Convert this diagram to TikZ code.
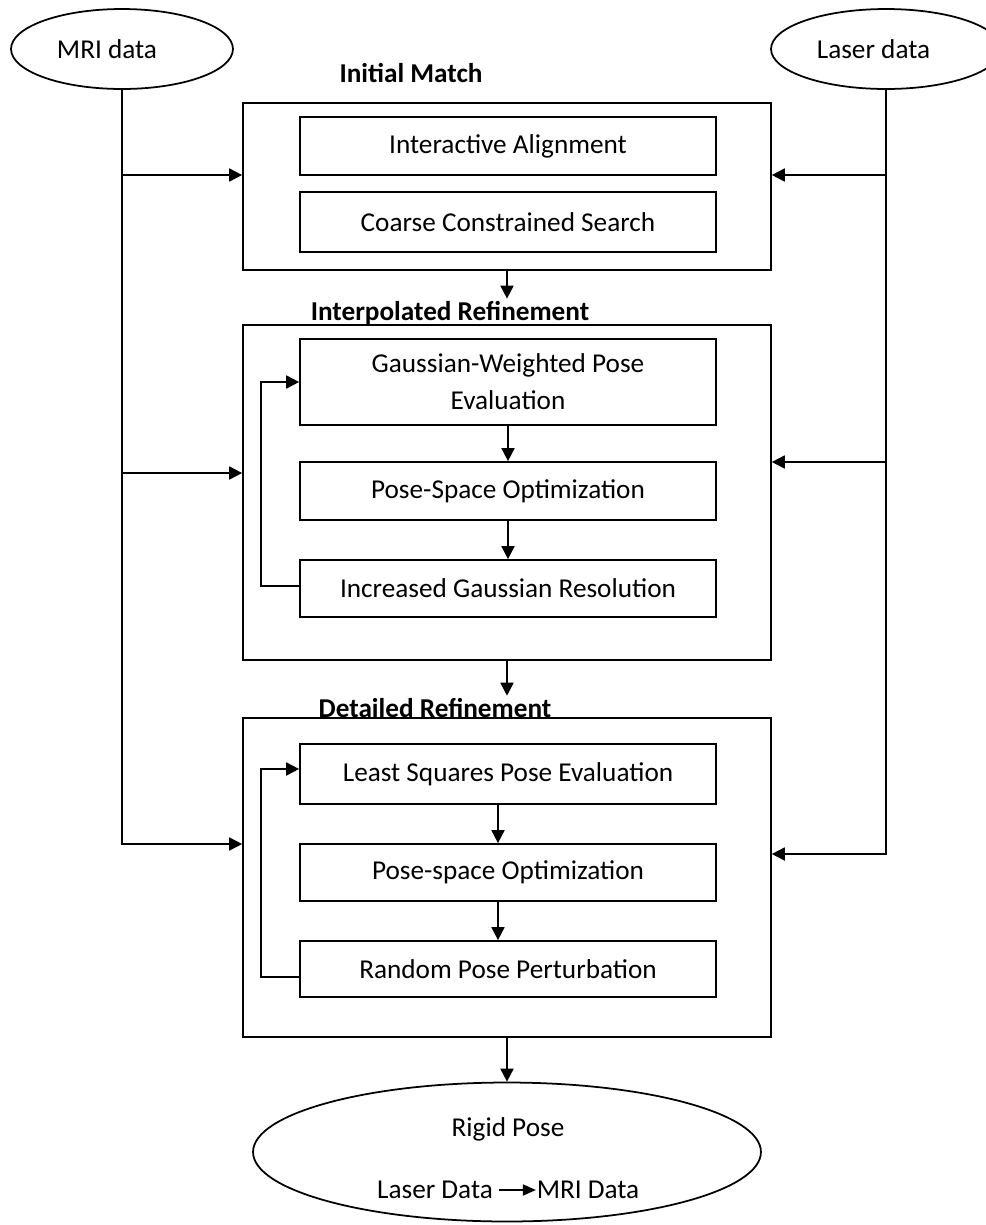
\documentclass[tikz,border=0pt]{standalone}
\usepackage{fontspec}
\setmainfont{Carlito}
\usetikzlibrary{shapes.geometric,arrows.meta}

\begin{document}
\begin{tikzpicture}[x=0.02cm, y=-0.02cm, line width=1pt,
		every node/.style={font=\fontsize{15.5}{21}\selectfont},
		source/.style={draw, ellipse, minimum width=4.44cm, minimum height=1.6cm, inner sep=0pt},
		stage/.style={draw, rectangle, minimum width=10.56cm},
		task/.style={draw, rectangle, minimum width=8.32cm, align=center},
		stagetitle/.style={font=\fontsize{15.5}{21}\selectfont\bfseries, inner sep=1pt},
		>={Triangle[length=0.26cm, width=0.26cm]}]
		\useasboundingbox (0,0) rectangle (985,1225);

		\node[source] (mri) at (122,49) {MRI data\kern0.6cm};
		\node[source, minimum width=4.6cm] (laser) at (886,49) {Laser data\kern0.5cm};

		% initial match
		\node[stagetitle] (titleInit) at (411,73) {Initial Match};
		\node[stage, minimum height=3.34cm] (stageInit) at (507,186.5) {};
		\node[task, minimum height=1.16cm] (align) at (508,146) {Interactive Alignment};
		\node[task, minimum height=1.2cm] (coarse) at (508,222) {Coarse Constrained Search};

		% interpolated refinement
		\node[stagetitle] (titleInterp) at (450,313) {Interpolated Refinement};
		\node[stage, minimum height=6.7cm] (stageInterp) at (507,492.5) {};
		\node[task, minimum height=1.72cm] (gaussEval) at (508,382) {Gaussian-Weighted Pose\\Evaluation};
		\node[task, minimum height=1.16cm] (optInterp) at (508,491) {Pose-Space Optimization};
		\node[task, minimum height=1.14cm] (gaussRes) at (508,588.5) {Increased Gaussian Resolution};

		% detailed refinement
		\node[stagetitle] (titleDetail) at (435,708) {Detailed Refinement};
		\node[stage, minimum height=6.38cm] (stageDetail) at (507,877.5) {};
		\node[task, minimum height=1.2cm] (lsqEval) at (508,774) {Least Squares Pose Evaluation};
		\node[task, minimum height=1.14cm] (optDetail) at (508,872.5) {Pose-space Optimization};
		\node[task, minimum height=1.12cm] (perturb) at (508,969) {Random Pose Perturbation};

		% result
		\node[draw, ellipse, minimum width=10.16cm, minimum height=2.78cm] (rigid) at (507,1152) {};
		\node (rigidText) at (508,1129) {Rigid Pose};
		\node[inner sep=0pt] (laserData) at (435,1190) {Laser Data};
		\node[inner sep=0pt] (mriData) at (588,1190) {MRI Data};

		\coordinate (mriA) at (121,175);
		\coordinate (mriB) at (121,473);
		\coordinate (mriC) at (121,844);
		\coordinate (laserA) at (887,175);
		\coordinate (laserB) at (887,462);
		\coordinate (laserC) at (887,854);
		\coordinate (loopInterp) at (261,586);
		\coordinate (loopDetail) at (261,977);

		\draw[->] (mri.south) |- (mriC -| stageDetail.west);
		\draw[->] (mriA) -- (mriA -| stageInit.west);
		\draw[->] (mriB) -- (mriB -| stageInterp.west);

		\draw[->] (laser.south) |- (laserC -| stageDetail.east);
		\draw[->] (laserA) -- (laserA -| stageInit.east);
		\draw[->] (laserB) -- (laserB -| stageInterp.east);

		\draw[->] (stageInit.south) -- (stageInit.south |- titleInterp.north);
		\draw[->] (stageInterp.south) -- (stageInterp.south |- titleDetail.north);
		\draw[->] (stageDetail.south) -- (rigid.north);

		\draw[->] (gaussEval) -- (optInterp);
		\draw[->] (optInterp) -- (gaussRes);
		\draw[->] (gaussRes.west |- loopInterp) -- (loopInterp) |- (gaussEval.west);

		\draw[->] ([xshift=-0.2cm]lsqEval.south) -- ([xshift=-0.2cm]optDetail.north);
		\draw[->] ([xshift=-0.2cm]optDetail.south) -- ([xshift=-0.2cm]perturb.north);
		\draw[->] (perturb.west |- loopDetail) -- (loopDetail) |- ([yshift=0.1cm]lsqEval.west);

		\draw[->, >={Triangle[length=0.26cm, width=0.22cm]}, shorten <=3pt] (laserData) -- (mriData);
	\end{tikzpicture}
\end{document}
